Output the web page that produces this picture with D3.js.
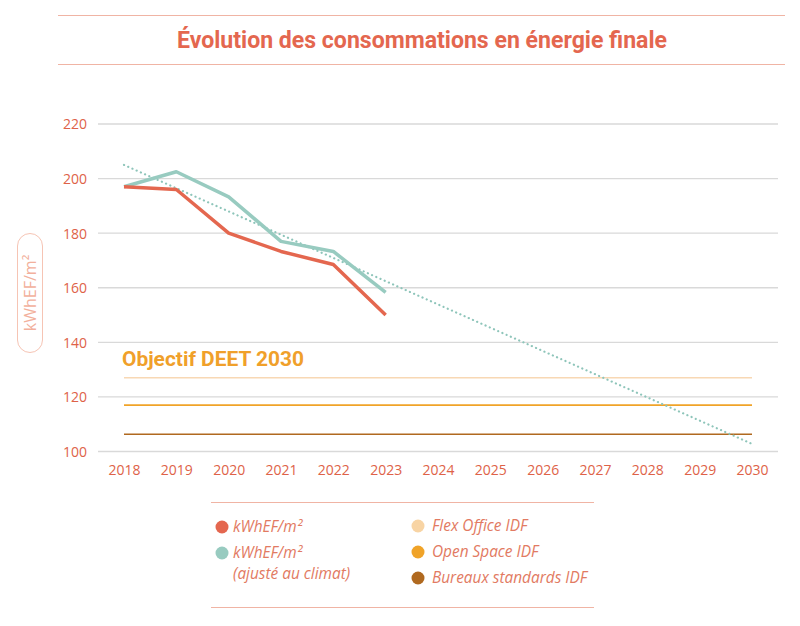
<!DOCTYPE html>
<html>
<head>
<meta charset="utf-8">
<title>Évolution des consommations en énergie finale</title>
<style>
  body { margin: 0; background: #fff; }
  svg { display: block; }
  .tick-lab { font-family: "Open Sans", Lato, sans-serif; font-size: 14px; fill: #de6248; }
  .leg { font-family: "Open Sans", Lato, sans-serif; font-size: 15.4px; fill: #e27a62; font-style: italic; }
</style>
</head>
<body>
<div id="container"></div>
<script src="https://cdn.jsdelivr.net/npm/d3@7"></script>
<script>
// data
var years = [2018, 2019, 2020, 2021, 2022, 2023];
var conso = [197, 196, 180, 173.3, 168.5, 150];
var consoClimat = [197, 202.5, 193.3, 177, 173.3, 158.3];
var trendYears = [2018, 2030];
var trendValues = [205, 102.8];
var targetNames = ["Flex Office IDF", "Open Space IDF", "Bureaux standards IDF"];
var targetValues = [127, 117, 106.3];
var yTicks = [100, 120, 140, 160, 180, 200, 220];
var xTicks = d3.range(2018, 2031);

var W = 800, H = 626;
var svg = d3.select("#container").append("svg").attr("width", W).attr("height", H);

var x = d3.scaleLinear().domain([2018, 2030]).range([124, 752]);
var y = d3.scaleLinear().domain([100, 220]).range([451.5, 124]);

// title block
svg.append("line").attr("x1", 58).attr("x2", 785).attr("y1", 15.5).attr("y2", 15.5)
  .attr("stroke", "#f0b4a4").attr("stroke-width", 1.2);
svg.append("line").attr("x1", 58).attr("x2", 785).attr("y1", 64.5).attr("y2", 64.5)
  .attr("stroke", "#f0b4a4").attr("stroke-width", 1.2);
svg.append("text")
  .attr("x", 177).attr("y", 48)
  .attr("textLength", 490).attr("lengthAdjust", "spacingAndGlyphs")
  .style("font-family", "Roboto, sans-serif").style("font-weight", 700).style("font-size", "23px")
  .attr("fill", "#e4674f")
  .text("Évolution des consommations en énergie finale");

// gridlines
svg.append("g").selectAll("line").data(yTicks).join("line")
  .attr("x1", 98).attr("x2", 778)
  .attr("y1", d => y(d)).attr("y2", d => y(d))
  .attr("stroke", "#d9d9d9").attr("stroke-width", 1.3);

// y axis labels
var yAxis = d3.axisLeft(y).tickValues(yTicks).tickSize(0).tickPadding(0);
var gy = svg.append("g").attr("transform", "translate(87,0)").call(yAxis);
gy.select(".domain").remove();
gy.selectAll("text").attr("class", "tick-lab").attr("fill", null).attr("dy", "0.35em").attr("font-size", null).attr("font-family", null);

// x axis labels
var xAxis = d3.axisBottom(x).tickValues(xTicks).tickFormat(d3.format("d")).tickSize(0).tickPadding(0);
var gx = svg.append("g").attr("transform", "translate(0,470)").call(xAxis);
gx.select(".domain").remove();
gx.selectAll("text").attr("class", "tick-lab").attr("fill", null).attr("dy", "0.35em").attr("font-size", null).attr("font-family", null);

// y label pill
svg.append("rect").attr("x", 17.5).attr("y", 233.5).attr("width", 25).attr("height", 119).attr("rx", 12.5)
  .attr("fill", "none").attr("stroke", "#f6c4b4").attr("stroke-width", 1);
svg.append("text")
  .attr("transform", "translate(36,293) rotate(-90)")
  .attr("text-anchor", "middle")
  .style("font-family", "'Open Sans', sans-serif").style("font-size", "16px")
  .attr("fill", "#f2b09c")
  .text("kWhEF/m²");

// target lines
var targetColors = ["#f8d8b4", "#f0a328", "#b0691f"];
svg.append("g").selectAll("line").data(targetValues).join("line")
  .attr("x1", x(2018)).attr("x2", x(2030))
  .attr("y1", d => y(d)).attr("y2", d => y(d))
  .attr("stroke", (d, i) => targetColors[i]).attr("stroke-width", 1.6);

svg.append("text")
  .attr("x", 122).attr("y", 366)
  .attr("textLength", 182).attr("lengthAdjust", "spacingAndGlyphs")
  .style("font-family", "Roboto, sans-serif").style("font-weight", 700).style("font-size", "20px")
  .attr("fill", "#f0a02a")
  .text("Objectif DEET 2030");

// trend line
var line = d3.line().x(d => x(d[0])).y(d => y(d[1]));
svg.append("path")
  .datum(d3.zip(trendYears, trendValues))
  .attr("d", line)
  .attr("fill", "none").attr("stroke", "#8ec5ba").attr("stroke-width", 2.2)
  .attr("stroke-dasharray", "0.1,4.5").attr("stroke-linecap", "round");

// series
svg.append("path")
  .datum(d3.zip(years, consoClimat))
  .attr("d", line)
  .attr("fill", "none").attr("stroke", "#98cbc0").attr("stroke-width", 3.5)
  .attr("stroke-linejoin", "round");
svg.append("path")
  .datum(d3.zip(years, conso))
  .attr("d", line)
  .attr("fill", "none").attr("stroke", "#e4674f").attr("stroke-width", 3.5)
  .attr("stroke-linejoin", "round");

// legend
svg.append("line").attr("x1", 211).attr("x2", 594).attr("y1", 502.5).attr("y2", 502.5)
  .attr("stroke", "#f0b4a4").attr("stroke-width", 1.2);
svg.append("line").attr("x1", 211).attr("x2", 594).attr("y1", 607.5).attr("y2", 607.5)
  .attr("stroke", "#f0b4a4").attr("stroke-width", 1.2);

var leftLeg = [
  {color: "#e4674f", lines: ["kWhEF/m²"], y: 527},
  {color: "#98cbc0", lines: ["kWhEF/m²", "(ajusté au climat)"], y: 553}
];
leftLeg.forEach(function(d) {
  svg.append("circle").attr("cx", 222).attr("cy", d.y).attr("r", 6.5).attr("fill", d.color);
  d.lines.forEach(function(t, j) {
    svg.append("text").attr("class", "leg").attr("x", 233).attr("y", d.y + 5 + j * 21).text(t);
  });
});

targetNames.forEach(function(name, i) {
  var cy = 526 + i * 26;
  var c = i == 0 ? "#f8d4a4" : targetColors[i];
  svg.append("circle").attr("cx", 418).attr("cy", cy).attr("r", 6.5).attr("fill", c);
  svg.append("text").attr("class", "leg").attr("x", 432).attr("y", cy + 5).text(name);
});
</script>
</body>
</html>
